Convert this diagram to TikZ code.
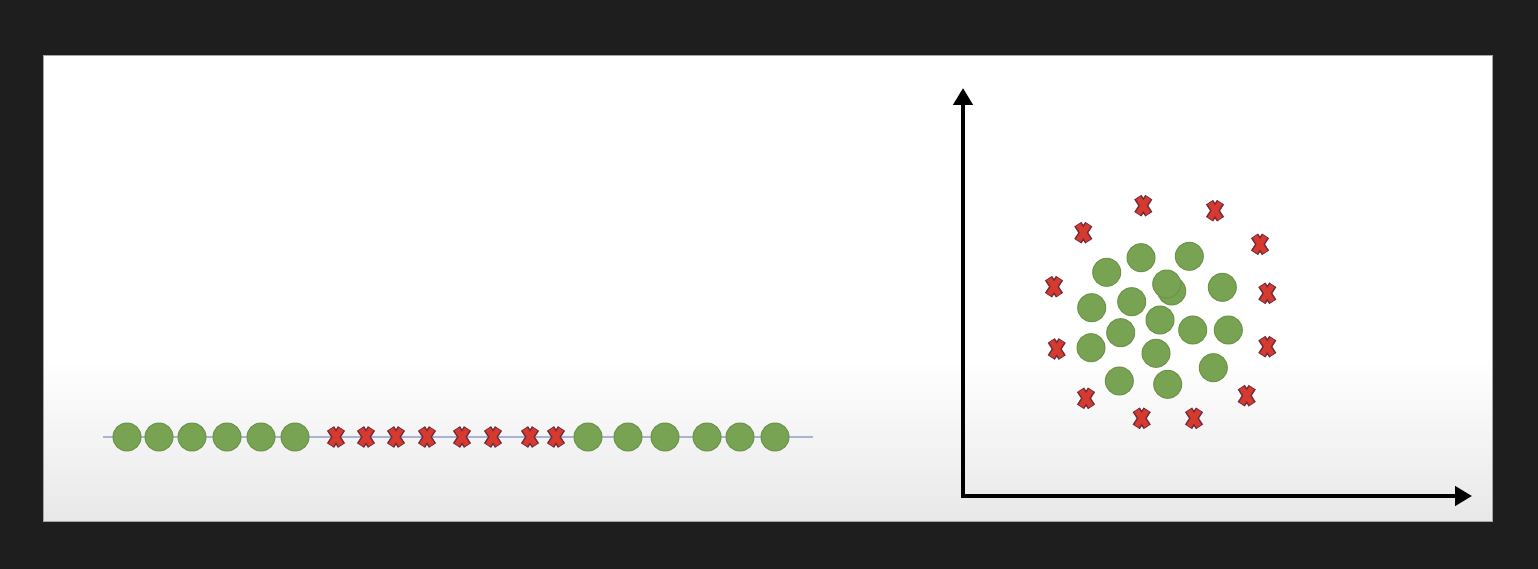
\documentclass[tikz,border=0pt]{standalone}
\usetikzlibrary{arrows.meta}
\definecolor{bgdark}{HTML}{1E1E1E}
\definecolor{dotgreen}{HTML}{78A352}
\definecolor{dotedge}{HTML}{6A9448}
\definecolor{xred}{HTML}{D6392D}
\definecolor{xedge}{HTML}{6E2C3C}
\definecolor{linegray}{HTML}{A9B3D2}
\tikzset{
  dot/.style={circle, fill=dotgreen, draw=dotedge, line width=1pt, minimum size=28pt, inner sep=0pt},
  pics/xmark/.style={code={
    \draw[xedge, line width=8.5pt, line cap=butt] (-5.5,-8.5) -- (5.5,8.5) (-5.5,8.5) -- (5.5,-8.5);
    \draw[xred, line width=5.5pt, line cap=butt] (-5,-7.8) -- (5,7.8) (-5,7.8) -- (5,-7.8);
  }},
  axis/.style={line width=4.5pt, line join=miter, {Triangle[length=17pt,width=19pt]}-{Triangle[length=17pt,width=19pt]}}
}
\begin{document}
\begin{tikzpicture}[x=1pt,y=-1pt]
\useasboundingbox (0,0) rectangle (1538,569);
\fill[bgdark] (0,0) rectangle (1538,569);
\fill[white] (43,55) rectangle (1492,521);
\shade[top color=white, bottom color=black!9] (43,360) rectangle (1492,521);
\draw[black!35, line width=0.8pt] (43,55) rectangle (1492,521);
% 1D line
\coordinate (L0) at (103,437);
\coordinate (L1) at (813,437);
\draw[linegray, line width=2.4pt] (L0) -- (L1);
\foreach \x [count=\i] in {127,159,192,227,261,295,588,628,665,707,740,775}
  \node[dot] (a\i) at (\x,437) {};
\foreach \x [count=\i] in {336,366,396,427,462,493,530,556}
  \pic (ax\i) at (\x,437) {xmark};
% axes
\coordinate (Y) at (963,88);
\coordinate (O) at (963,496);
\coordinate (X) at (1472,496);
\draw[axis] (Y) -- (O) -- (X);
% 2D scatter
\foreach \x/\y [count=\i] in {1106.7/272.3,1141/257.7,1189.3/256.3,1171.7/291,1166.7/284,1222.3/287.3,1091.7/307.7,1131.7/301.7,1160/320,1120.7/332.7,1192.7/330,1228.3/330,1091/347.7,1156/353.3,1213.3/367.7,1119.3/381,1167.7/384.3}
  \node[dot] (b\i) at (\x,\y) {};
\foreach \x/\y [count=\i] in {1143.3/205.7,1215/210.7,1083.3/232.7,1260/244.3,1054/286.7,1267.3/293.3,1056.7/349,1267.3/346.7,1086/398.3,1246.7/395.7,1141.7/418.3,1194/418.3}
  \pic (bx\i) at (\x,\y) {xmark};
\end{tikzpicture}
\end{document}
